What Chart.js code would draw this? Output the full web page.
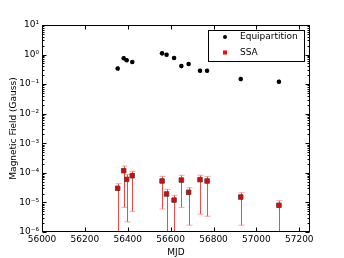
<!DOCTYPE html>
<html>
<head>
<meta charset="utf-8">
<script src="https://cdn.jsdelivr.net/npm/chart.js@4.4.0/dist/chart.umd.min.js"></script>
<style>
  html, body { margin: 0; padding: 0; background: #fff; }
  #wrap { width: 344px; height: 258px; }
</style>
</head>
<body>
<div id="wrap"><canvas id="chart" width="344" height="258"></canvas></div>
<script>
// Data
const eqMjd = [56353, 56381, 56395, 56421, 56560, 56581, 56616, 56650, 56684, 56737, 56770, 56927, 57105];
const eqField = [0.34, 0.75, 0.64, 0.56, 1.1, 0.99, 0.77, 0.41, 0.48, 0.285, 0.285, 0.149, 0.121];
const eqLow = [0.28, 0.64, 0.55, 0.48, 0.95, 0.86, 0.66, 0.34, 0.41, 0.24, 0.24, 0.125, 0.102];
const eqHigh = [0.40, 0.87, 0.74, 0.65, 1.26, 1.14, 0.89, 0.48, 0.56, 0.33, 0.33, 0.175, 0.142];

const ssaMjd = [56353, 56381, 56395, 56421, 56560, 56581, 56616, 56650, 56684, 56737, 56770, 56927, 57105];
const ssaField = [3.0e-5, 1.18e-4, 6.0e-5, 8.0e-5, 5.3e-5, 1.93e-5, 1.2e-5, 5.7e-5, 2.2e-5, 5.9e-5, 5.3e-5, 1.52e-5, 8.0e-6];
const ssaLow = [1e-8, 6.8e-6, 2.2e-6, 5.0e-6, 6.0e-6, 1e-8, 1e-8, 6.8e-6, 1.7e-6, 4.0e-6, 3.4e-6, 1.7e-6, 1e-8];
const ssaHigh = [4.3e-5, 1.7e-4, 8.9e-5, 1.13e-4, 7.6e-5, 2.78e-5, 1.74e-5, 8.3e-5, 3.15e-5, 8.3e-5, 7.6e-5, 2.13e-5, 1.14e-5];

const xTicks = [56000, 56200, 56400, 56600, 56800, 57000, 57200];
const yExponents = [-6, -5, -4, -3, -2, -1, 0, 1];

const FONT = 'DejaVu Sans';
const sup = { '-': '\u207B', '0': '\u2070', '1': '\u00B9', '2': '\u00B2', '3': '\u00B3',
  '4': '\u2074', '5': '\u2075', '6': '\u2076', '7': '\u2077', '8': '\u2078', '9': '\u2079' };
function powLabel(e) {
  return '10' + String(e).split('').map(c => sup[c]).join('');
}

// error bars, drawn under the markers
const errorBars = {
  id: 'errorBars',
  beforeDatasetsDraw(chart) {
    const ctx = chart.ctx, a = chart.chartArea;
    const x = chart.scales.x, y = chart.scales.y;
    ctx.save();
    ctx.beginPath();
    ctx.rect(a.left, a.top, a.right - a.left, a.bottom - a.top);
    ctx.clip();
    function bars(xs, lo, hi, line, cap, capW) {
      xs.forEach((m, i) => {
        const px = Math.round(x.getPixelForValue(m)) + 0.5;
        const y1 = y.getPixelForValue(lo[i]);
        const y2 = y.getPixelForValue(hi[i]);
        ctx.strokeStyle = line;
        ctx.lineWidth = 1;
        ctx.beginPath();
        ctx.moveTo(px, y1);
        ctx.lineTo(px, y2);
        ctx.stroke();
        ctx.strokeStyle = cap;
        ctx.beginPath();
        ctx.moveTo(px - capW, y1); ctx.lineTo(px + capW, y1);
        ctx.moveTo(px - capW, y2); ctx.lineTo(px + capW, y2);
        ctx.stroke();
      });
    }
    bars(ssaMjd, ssaLow, ssaHigh, 'rgba(245,50,50,0.9)', 'rgba(255,120,120,0.7)', 3);
    bars(eqMjd, eqLow, eqHigh, '#333', '#333', 0);
    ctx.restore();
  }
};

// frame, inward ticks, legend
const frame = {
  id: 'frame',
  afterDraw(chart) {
    const ctx = chart.ctx, a = chart.chartArea;
    const x = chart.scales.x, y = chart.scales.y;
    ctx.save();
    ctx.strokeStyle = '#000';
    ctx.lineWidth = 1;
    const L = Math.round(a.left) + 0.5, R = Math.round(a.right) - 0.5;
    const T = Math.round(a.top) + 0.5, B = Math.round(a.bottom) - 0.5;
    ctx.beginPath();
    xTicks.forEach(v => {
      const px = Math.round(x.getPixelForValue(v)) + 0.5;
      ctx.moveTo(px, B); ctx.lineTo(px, B - 4);
      ctx.moveTo(px, T); ctx.lineTo(px, T + 4);
    });
    yExponents.forEach(e => {
      const py = Math.round(y.getPixelForValue(Math.pow(10, e))) + 0.5;
      ctx.moveTo(L, py); ctx.lineTo(L + 4, py);
      ctx.moveTo(R, py); ctx.lineTo(R - 4, py);
      if (e < 1) {
        for (let k = 2; k <= 9; k++) {
          const pm = Math.round(y.getPixelForValue(k * Math.pow(10, e))) + 0.5;
          ctx.moveTo(L, pm); ctx.lineTo(L + 2, pm);
          ctx.moveTo(R, pm); ctx.lineTo(R - 2, pm);
        }
      }
    });
    ctx.stroke();
    ctx.strokeRect(L, T, R - L, B - T);

    // legend
    ctx.fillStyle = '#fff';
    ctx.fillRect(208.5, 30.5, 96, 31);
    ctx.strokeRect(208.5, 30.5, 96, 31);
    ctx.fillStyle = '#000';
    ctx.beginPath();
    ctx.arc(225, 37, 2, 0, Math.PI * 2);
    ctx.fill();
    ctx.fillStyle = '#ff0000';
    ctx.fillRect(223, 50.5, 4, 4);
    ctx.fillStyle = '#000';
    ctx.font = '9px "' + FONT + '"';
    ctx.textBaseline = 'middle';
    ctx.textAlign = 'left';
    ctx.fillText('Equipartition', 240, 37);
    ctx.fillText('SSA', 240, 53);
    ctx.restore();
  }
};

new Chart(document.getElementById('chart'), {
  type: 'scatter',
  data: {
    datasets: [
      {
        label: 'Equipartition',
        data: eqMjd.map((m, i) => ({ x: m, y: eqField[i] })),
        pointStyle: 'circle',
        pointRadius: 2.3,
        backgroundColor: '#000',
        borderColor: '#000',
        borderWidth: 0
      },
      {
        label: 'SSA',
        data: ssaMjd.map((m, i) => ({ x: m, y: ssaField[i] })),
        pointStyle: 'rect',
        pointRadius: 3.2,
        backgroundColor: '#ee0000',
        borderColor: 'rgba(90,60,60,0.9)',
        borderWidth: 1
      }
    ]
  },
  options: {
    responsive: false,
    animation: false,
    devicePixelRatio: 1,
    layout: { padding: { top: 25, right: 34, left: 0, bottom: 0 } },
    plugins: { legend: { display: false }, tooltip: { enabled: false } },
    scales: {
      x: {
        type: 'linear',
        min: 56000,
        max: 57250,
        afterBuildTicks(s) { s.ticks = xTicks.map(v => ({ value: v })); },
        afterFit(s) { s.height = 26; },
        grid: { display: false, drawTicks: false },
        border: { display: false },
        ticks: {
          color: '#000',
          font: { family: FONT, size: 9 },
          padding: 2,
          maxRotation: 0,
          callback: v => String(v)
        },
        title: {
          display: true,
          text: 'MJD',
          color: '#000',
          font: { family: FONT, size: 9 },
          padding: { top: 0, bottom: 0 }
        }
      },
      y: {
        type: 'logarithmic',
        min: 1e-6,
        max: 10,
        afterBuildTicks(s) { s.ticks = yExponents.map(e => ({ value: Math.pow(10, e) })); },
        afterFit(s) { s.width = 42; },
        grid: { display: false, drawTicks: false },
        border: { display: false },
        ticks: {
          color: '#000',
          font: { family: FONT, size: 9 },
          padding: 3,
          callback: v => powLabel(Math.round(Math.log10(v)))
        },
        title: {
          display: true,
          text: 'Magnetic Field (Gauss)',
          color: '#000',
          font: { family: FONT, size: 9 },
          padding: { top: 8, bottom: 0 }
        }
      }
    }
  },
  plugins: [errorBars, frame]
});
</script>
</body>
</html>
